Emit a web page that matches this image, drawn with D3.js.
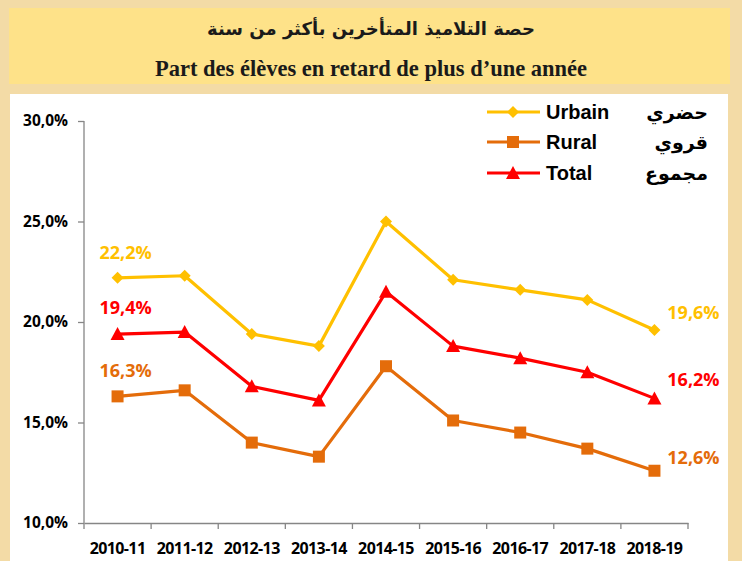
<!DOCTYPE html>
<html><head><meta charset="utf-8">
<script src="https://cdn.jsdelivr.net/npm/d3@7"></script>
<style>body{margin:0;background:#f3dba6;}svg{display:block}</style>
</head><body>
<svg id="c" width="742" height="561"></svg>
<script>
const categories = ["2010-11","2011-12","2012-13","2013-14","2014-15","2015-16","2016-17","2017-18","2018-19"];
const urbain = [22.2,22.3,19.4,18.8,25.0,22.1,21.6,21.1,19.6];
const rural  = [16.3,16.6,14.0,13.3,17.8,15.1,14.5,13.7,12.6];
const total  = [19.4,19.5,16.8,16.1,21.5,18.8,18.2,17.5,16.2];
const yTicks = [10,15,20,25,30];
const seriesNames = ["Urbain","Rural","Total"];
const seriesArabic = ["حضري","قروي","مجموع"];

const svg = d3.select("#c");
svg.append("rect").attr("width",742).attr("height",561).attr("fill","#f3dba6");
svg.append("rect").attr("x",9).attr("y",8).attr("width",721).attr("height",76).attr("fill","#fee289");
svg.append("rect").attr("x",10).attr("y",94).attr("width",718).attr("height",467).attr("fill","#ffffff");

svg.append("text").attr("x",371).attr("y",35).attr("text-anchor","middle")
  .attr("font-family","'DejaVu Sans', 'Noto Sans'").attr("font-weight","bold").attr("font-size",18)
  .attr("fill","#1a1a1a").text("حصة التلاميذ المتأخرين بأكثر من سنة");
svg.append("text").attr("x",371).attr("y",76).attr("text-anchor","middle")
  .attr("font-family","'Liberation Serif', serif").attr("font-weight","bold").attr("font-size",22.5)
  .attr("fill","#1a1a1a").text("Part des élèves en retard de plus d’une année");

const x = d3.scaleBand().domain(categories).range([84,688]);
const y = d3.scaleLinear().domain([10,30]).range([523,121]);

const axisColor = "#868686";
const labFont = "'Open Sans', Lato";
const gy = svg.append("g").attr("transform","translate(84,0)")
  .call(d3.axisLeft(y).tickValues(yTicks).tickSize(6).tickFormat(d=>d.toFixed(1).replace(".",",")+"%"));
const gx = svg.append("g").attr("transform","translate(0,523)")
  .call(d3.axisBottom(x).tickSize(0).tickSizeOuter(0));
gx.selectAll(".tick text").remove();
svg.append("g").selectAll("line").data(categories.concat(["end"])).join("line")
  .attr("x1",(d,i)=>84+i*x.step()).attr("x2",(d,i)=>84+i*x.step())
  .attr("y1",523).attr("y2",529).attr("stroke",axisColor).attr("stroke-width",1.3);
[gy,gx].forEach(g=>{g.selectAll("path,line").attr("stroke",axisColor).attr("stroke-width",1.3);});
gy.select(".domain").attr("d","M0,121V523");
gy.selectAll(".tick text").attr("font-family",labFont).attr("font-weight","bold")
  .attr("font-size",15.5).attr("fill","#000").attr("x",-16);
svg.append("g").selectAll("text").data(categories).join("text")
  .attr("x",d=>x(d)+x.bandwidth()/2).attr("y",554).attr("text-anchor","middle")
  .attr("font-family",labFont).attr("font-weight","bold").attr("font-size",16)
  .attr("letter-spacing",-0.6).attr("fill","#000").text(d=>d);

const colors = ["#ffc000","#e46c0a","#ff0000"];
const data = [urbain,rural,total];
const line = d3.line().x((d,i)=>x(categories[i])+x.bandwidth()/2).y(d=>y(d));

function marker(g,type,cx,cy,color){
  if(type===0){
    g.append("path").attr("d",`M${cx},${cy-6}L${cx+6},${cy}L${cx},${cy+6}L${cx-6},${cy}Z`).attr("fill",color);
  } else if(type===1){
    g.append("rect").attr("x",cx-6).attr("y",cy-6).attr("width",12).attr("height",12).attr("fill",color);
  } else {
    g.append("path").attr("d",`M${cx},${cy-7}L${cx+7},${cy+6}L${cx-7},${cy+6}Z`).attr("fill",color);
  }
}

data.forEach((vals,s)=>{
  const g = svg.append("g");
  g.append("path").datum(vals).attr("d",line).attr("fill","none")
    .attr("stroke",colors[s]).attr("stroke-width",3.2).attr("stroke-linejoin","round");
  vals.forEach((v,i)=>marker(g,s,x(categories[i])+x.bandwidth()/2,y(v),colors[s]));
});

const firstOffsets = [-19,-19,-20];
const lastOffsets = [-11,-7,-12];
const firstVals = [22.2,16.3,19.4];
const lastVals = [19.6,12.6,16.2];
const fmt = v=>v.toFixed(1).replace(".",",")+"%";
data.forEach((vals,s)=>{
  svg.append("text").attr("x",x(categories[0])+x.bandwidth()/2+8).attr("y",y(vals[0])+firstOffsets[s])
    .attr("text-anchor","middle").attr("font-family",labFont).attr("font-weight","bold")
    .attr("font-size",18).attr("fill",colors[s]).text(fmt(firstVals[s]));
  svg.append("text").attr("x",x(categories[8])+x.bandwidth()/2+39).attr("y",y(vals[8])+lastOffsets[s])
    .attr("text-anchor","middle").attr("font-family",labFont).attr("font-weight","bold")
    .attr("font-size",18).attr("fill",colors[s]).text(fmt(lastVals[s]));
});

const ly = [112,142,173];
seriesNames.forEach((n,s)=>{
  const g = svg.append("g");
  g.append("line").attr("x1",487).attr("x2",540).attr("y1",ly[s]).attr("y2",ly[s])
    .attr("stroke",colors[s]).attr("stroke-width",3.2);
  marker(g,s,513,ly[s],colors[s]);
  g.append("text").attr("x",546).attr("y",ly[s]+7).attr("font-family","'Liberation Sans', Arial")
    .attr("font-weight","bold").attr("font-size",20).attr("fill","#000").text(n);
  g.append("text").attr("x",708).attr("y",ly[s]+7).attr("text-anchor","end")
    .attr("font-family","'DejaVu Sans', 'Noto Sans'").attr("font-weight","bold").attr("font-size",19)
    .attr("fill","#000").text(seriesArabic[s]);
});
</script>
</body></html>
